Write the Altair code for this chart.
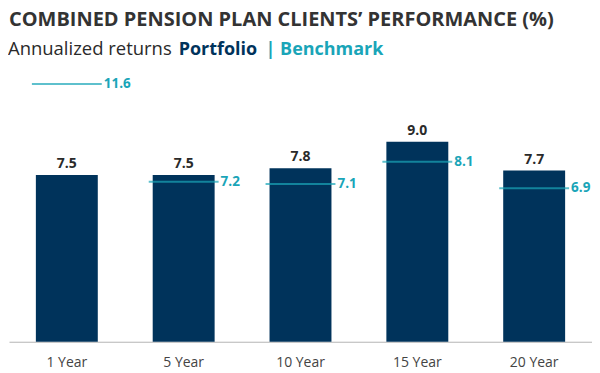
import altair as alt
import pandas as pd

categories = ["1 Year", "5 Year", "10 Year", "15 Year", "20 Year"]
portfolio = [7.5, 7.5, 7.8, 9.0, 7.7]
benchmark = [11.6, 7.2, 7.1, 8.1, 6.9]

NAVY = "#00335b"
TEAL = "#1aa5b8"
FONT = "Open Sans"

df = pd.DataFrame({"cat": categories, "portfolio": portfolio, "benchmark": benchmark})

xenc = alt.X("cat:N", sort=categories,
             scale=alt.Scale(paddingInner=0.47, paddingOuter=0.23),
             axis=alt.Axis(title=None, labelAngle=0, ticks=False, domainColor="#b5b5b5",
                           domainWidth=1, labelFont=FONT, labelFontSize=14,
                           labelColor="#444444", labelPadding=14))
yscale = alt.Scale(domain=[0, 15])

base = alt.Chart(df)

bars = base.mark_bar(color=NAVY).encode(
    x=xenc,
    y=alt.Y("portfolio:Q", scale=yscale, axis=None),
)
bar_labels = base.mark_text(font=FONT, fontSize=14, fontWeight="bold", color="#2a2a2a",
                            baseline="alphabetic", dy=-7).encode(
    x=alt.X("cat:N", sort=categories),
    y=alt.Y("portfolio:Q", scale=yscale),
    text=alt.Text("portfolio:Q", format=".1f"),
)
ticks = base.mark_tick(color=TEAL, size=70, thickness=2).encode(
    x=alt.X("cat:N", sort=categories),
    y=alt.Y("benchmark:Q", scale=yscale),
)
tick_labels = base.mark_text(font=FONT, fontSize=13.5, fontWeight="bold", color=TEAL,
                             align="left", baseline="middle", dx=37).encode(
    x=alt.X("cat:N", sort=categories),
    y=alt.Y("benchmark:Q", scale=yscale),
    text=alt.Text("benchmark:Q", format=".1f"),
)

one = alt.Data(values=[{}])

def txt(s, x, y, size, weight, color):
    return alt.Chart(one).mark_text(text=s, font=FONT, fontSize=size, fontWeight=weight,
                                    color=color, align="left", baseline="alphabetic").encode(
        x=alt.value(x), y=alt.value(y))

title = txt("COMBINED PENSION PLAN CLIENTS\u2019 PERFORMANCE (%)", 0, 18, 20, "bold", "#333333")
sub1 = txt("Annualized returns", -1, 47, 18.5, "normal", "#2a2a2a")
sub2 = txt("Portfolio", 170, 47, 18, "bold", NAVY)
sub3 = txt("| Benchmark", 257, 47, 18, "bold", TEAL)

chart = alt.layer(bars, bar_labels, ticks, tick_labels, title, sub1, sub2, sub3).properties(
    width=584, height=334, padding=0
).configure_view(strokeWidth=0)

chart.save("out.html", embed_options={"renderer": "svg", "actions": False})
